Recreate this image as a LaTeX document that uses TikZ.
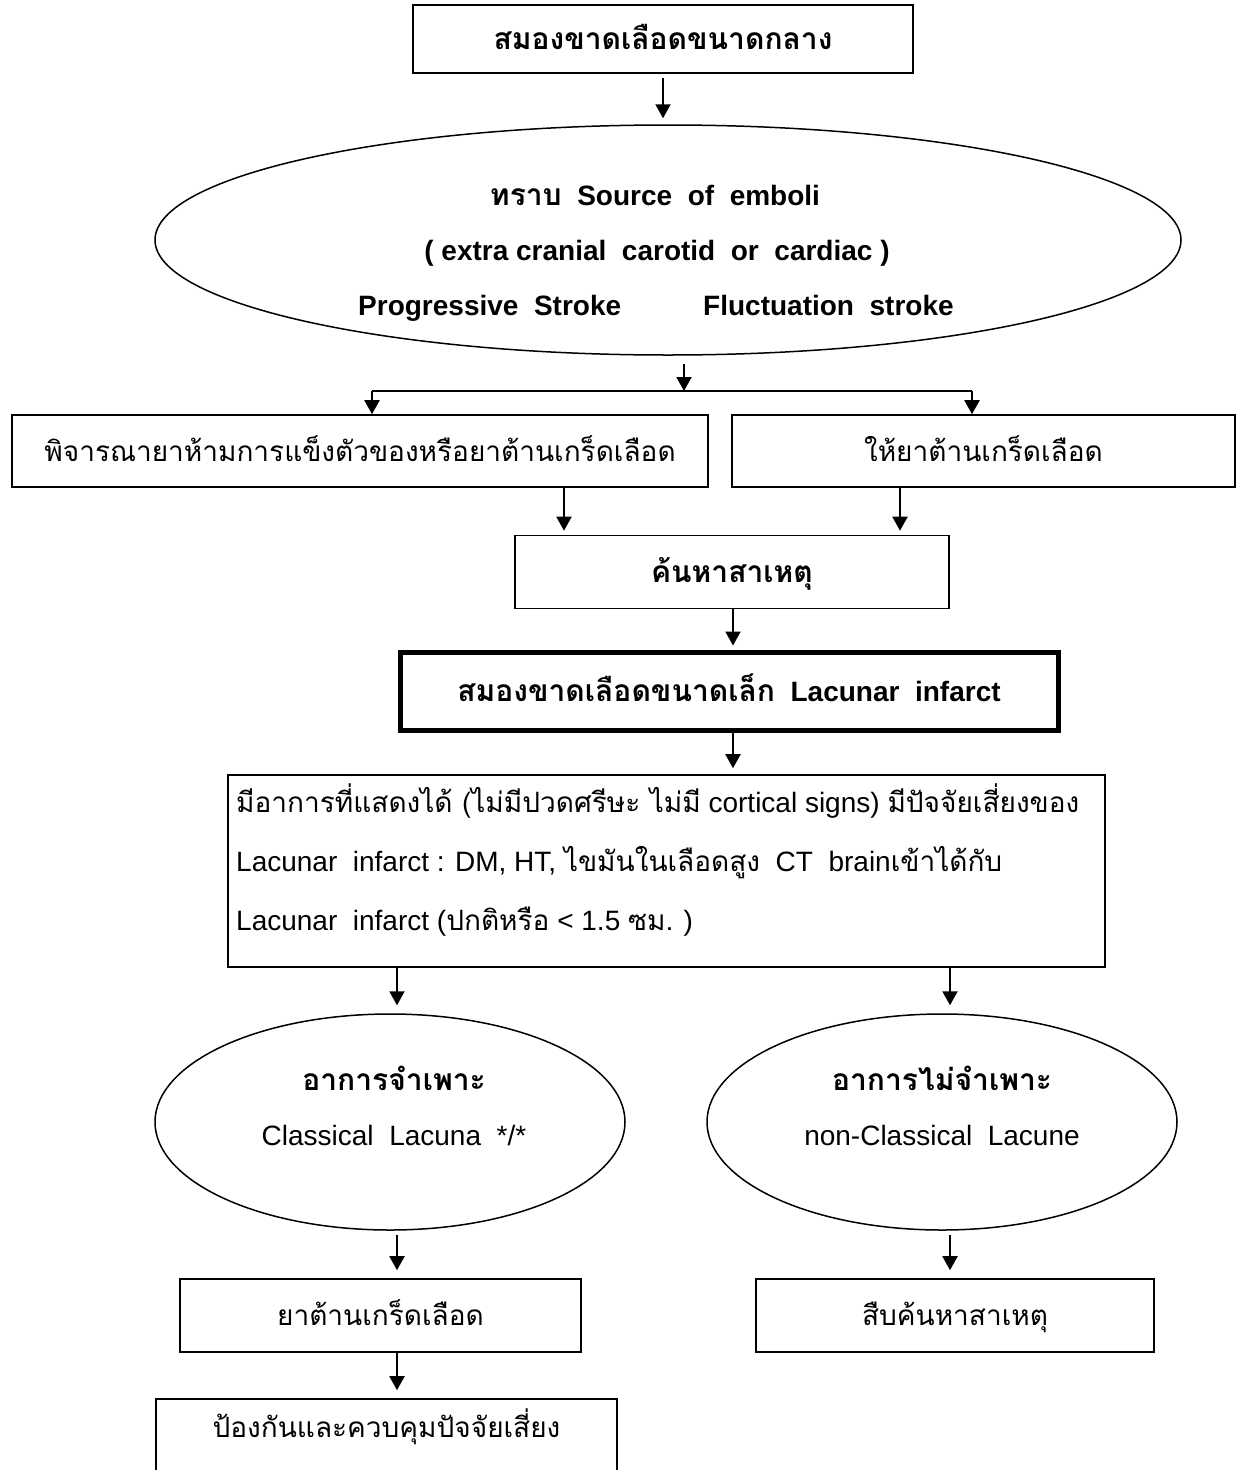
\documentclass[tikz,border=0pt]{standalone}
\usepackage{fontspec}
\setmainfont{Liberation Sans}
\newfontfamily\thaif[Script=Thai]{Loma}
\usetikzlibrary{shapes.geometric,arrows.meta}
\begin{document}
\begin{tikzpicture}[x=1pt,y=-1pt,
  every node/.style={font=\fontsize{28}{34}\selectfont, inner sep=0pt, text height=20pt, text depth=0pt},
  box/.style={draw, line width=1.6pt, rectangle},
  bbox/.style={draw, line width=5pt, rectangle},
  ell/.style={draw, line width=1.5pt, ellipse},
  arr/.style={line width=2pt, -{Triangle[length=14pt,width=15pt]}},
  ln/.style={line width=2pt},
  bt/.style={font=\fontsize{28}{34}\selectfont\bfseries},
  btt/.style={font=\fontsize{30}{36}\selectfont\bfseries}]
\useasboundingbox (0,0) rectangle (1236,1470);
\clip (0,0) rectangle (1236,1470);
\fill[white] (0,0) rectangle (1236,1470);
% top box
\node[box, minimum width=500pt, minimum height=68pt, btt] (top) at (663,39) {\thaif สมองขาดเลือดขนาดกลาง};
% big ellipse
\node[ell, minimum width=1026pt, minimum height=230pt] (big) at (668,240) {};
\node[bt] (e1) at (655,195) {{\thaif\fontsize{30}{36}\selectfont ทราบ}~~Source~~of~~emboli};
\node[bt] (e2) at (657,250) {( extra cranial~~carotid~~or~~cardiac )};
\node[bt, anchor=west] (e3) at (358,305) {Progressive~~Stroke};
\node[bt, anchor=west] (e4) at (703,305) {Fluctuation~~stroke};
% split
\coordinate (sp) at (684,391);
\coordinate (la) at (372,391);
\coordinate (ra) at (972,391);
% second row
\node[box, minimum width=696pt, minimum height=72pt] (lb) at (360,451) {\thaif พิจารณายาห้ามการแข็งตัวของหรือยาต้านเกร็ดเลือด};
\node[box, minimum width=503pt, minimum height=72pt] (rb) at (983.5,451) {\thaif ให้ยาต้านเกร็ดเลือด};
\node[box, minimum width=434pt, minimum height=73pt, btt] (mid) at (732,572) {\thaif ค้นหาสาเหตุ};
\node[bbox, minimum width=658pt, minimum height=78pt, bt] (lac) at (729,691) {{\thaif\fontsize{30}{36}\selectfont สมองขาดเลือดขนาดเล็ก}~~Lacunar~~infarct};
\node[box, minimum width=877pt, minimum height=192pt] (big2) at (666.5,871) {};
\node[anchor=west] (l1) at (236,802) {{\thaif มีอาการที่แสดงได้ (ไม่มีปวดศรีษะ ไม่มี} cortical signs) {\thaif มีปัจจัยเสี่ยงของ}};
\node[anchor=west] (l2) at (236,861) {Lacunar~~infarct : DM, HT, {\thaif ไขมันในเลือดสูง}~~CT~~brain{\thaif เข้าได้กับ}};
\node[anchor=west] (l3) at (236,920) {Lacunar~~infarct ({\thaif ปกติหรือ} < 1.5 {\thaif ซม.} )};
% ellipses
\node[ell, minimum width=470pt, minimum height=216pt] (le) at (390,1122) {};
\node[btt] (le1) at (394,1080) {\thaif อาการจำเพาะ};
\node (le2) at (394,1135) {Classical~~Lacuna~~*/*};
\node[ell, minimum width=470pt, minimum height=216pt] (re) at (942,1122) {};
\node[btt] (re1) at (942,1080) {\thaif อาการไม่จำเพาะ};
\node (re2) at (942,1135) {non-Classical~~Lacune};
% bottom boxes
\node[box, minimum width=401pt, minimum height=73pt] (yb) at (380.5,1315.5) {\thaif ยาต้านเกร็ดเลือด};
\node[box, minimum width=398pt, minimum height=73pt] (sb) at (955,1315.5) {\thaif สืบค้นหาสาเหตุ};
\node[box, minimum width=461pt, minimum height=102pt, text depth=46pt] (pb) at (386.5,1450) {\thaif ป้องกันและควบคุมปัจจัยเสี่ยง};
% x guides
\coordinate (x1) at (663,0);
\coordinate (x2) at (564,0);
\coordinate (x3) at (900,0);
\coordinate (x4) at (733,0);
\coordinate (x5) at (397,0);
\coordinate (x6) at (950,0);
% arrows
\draw[arr, shorten <=4pt, shorten >=6pt] (top.south -| x1) -- (big.north -| x1);
\draw[arr, shorten <=8pt] (big.south -| sp) -- (sp);
\draw[ln] (la) -- (ra);
\draw[arr] (la) -- (la |- lb.north);
\draw[arr] (ra) -- (ra |- rb.north);
\draw[arr, shorten >=4pt] (lb.south -| x2) -- (mid.north -| x2);
\draw[arr, shorten >=4pt] (rb.south -| x3) -- (mid.north -| x3);
\draw[arr, shorten >=4pt] (mid.south -| x4) -- (lac.north -| x4);
\draw[arr, shorten >=6pt] (lac.south -| x4) -- (big2.north -| x4);
\draw[arr, shorten >=8pt] (big2.south -| x5) -- (le.north -| x5);
\draw[arr, shorten >=8pt] (big2.south -| x6) -- (re.north -| x6);
\draw[arr, shorten <=4pt, shorten >=8pt] (le.south -| x5) -- (yb.north -| x5);
\draw[arr, shorten <=4pt, shorten >=8pt] (re.south -| x6) -- (sb.north -| x6);
\draw[arr, shorten >=8pt] (yb.south -| x5) -- (pb.north -| x5);
\end{tikzpicture}
\end{document}
